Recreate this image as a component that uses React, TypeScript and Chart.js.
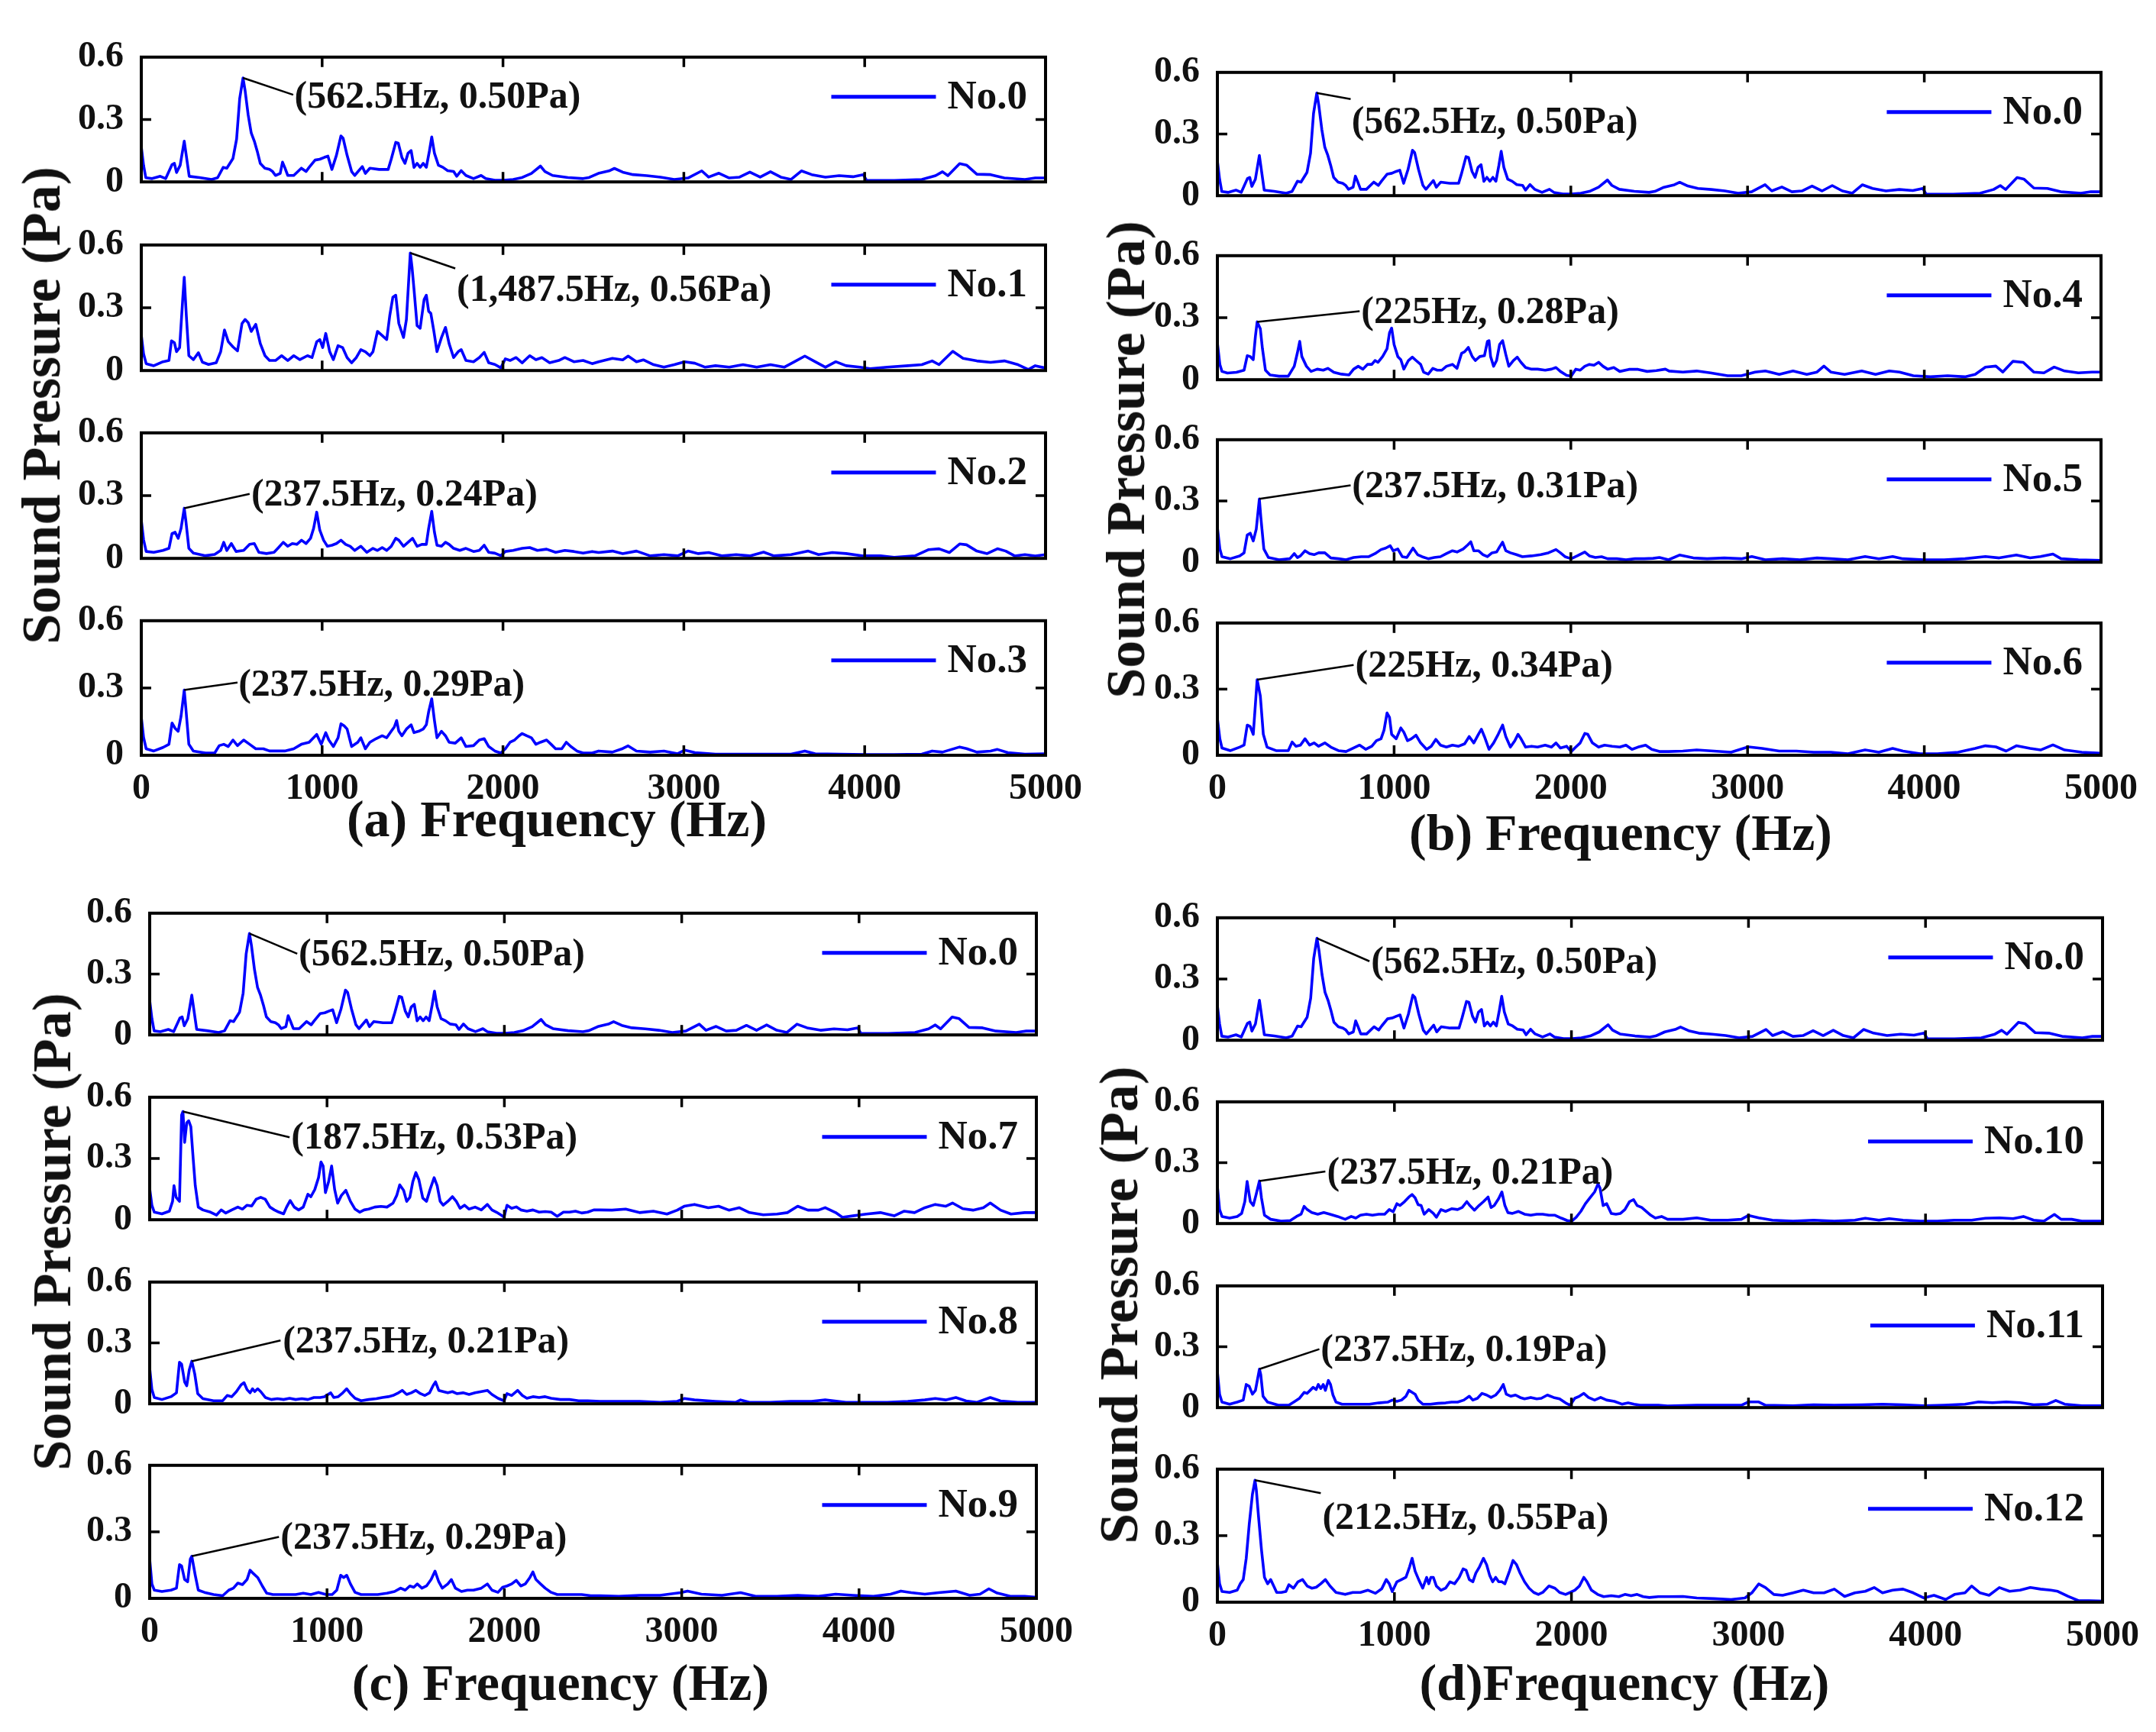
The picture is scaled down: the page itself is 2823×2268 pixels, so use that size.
import React, { useEffect, useRef } from 'react';
import { Chart, registerables } from 'chart.js';

Chart.register(...registerables);

type Pt = [number, number];

// ---------- data: [frequency Hz, sound pressure Pa] ----------
const no0: Pt[] = [[0,0.17],[12.5,0.08],[25,0.02],[60,0.016],[105,0.027],[135,0.016],[170,0.083],[183,0.089],[195,0.045],[215,0.08],[237.5,0.196],[265,0.027],[321,0.021],[389,0.012],[422,0.02],[453,0.07],[473,0.066],[507,0.113],[527,0.206],[544,0.40],[562.5,0.50],[574,0.439],[591,0.322],[608,0.235],[625,0.196],[641,0.148],[658,0.089],[683,0.066],[709,0.06],[726,0.05],[742,0.031],[768,0.041],[781,0.095],[793,0.07],[810,0.031],[843,0.031],[885,0.066],[911,0.05],[928,0.07],[961,0.105],[987,0.109],[1012,0.118],[1032,0.124],[1054,0.06],[1079,0.128],[1104,0.221],[1116,0.21],[1138,0.128],[1163,0.05],[1180,0.031],[1222,0.074],[1239,0.041],[1264,0.066],[1315,0.06],[1365,0.06],[1382,0.109],[1407,0.19],[1421,0.186],[1441,0.118],[1458,0.089],[1475,0.138],[1492,0.151],[1508,0.07],[1525,0.089],[1542,0.07],[1559,0.089],[1576,0.07],[1593,0.148],[1606,0.216],[1621,0.138],[1643,0.08],[1668,0.07],[1694,0.054],[1727,0.05],[1744,0.027],[1769,0.054],[1795,0.031],[1837,0.016],[1879,0.031],[1904,0.016],[1955,0.008],[2005,0.008],[2056,0.012],[2106,0.021],[2157,0.041],[2207,0.076],[2232,0.05],[2274,0.031],[2359,0.021],[2443,0.016],[2476,0.021],[2527,0.041],[2586,0.053],[2616,0.065],[2662,0.047],[2719,0.035],[2795,0.03],[2871,0.023],[2947,0.012],[3023,0.019],[3099,0.053],[3137,0.023],[3194,0.042],[3251,0.019],[3308,0.023],[3365,0.047],[3422,0.023],[3479,0.049],[3536,0.023],[3593,0.012],[3650,0.053],[3707,0.035],[3783,0.023],[3859,0.03],[3935,0.025],[3992,0.035],[4011,0.007],[4163,0.007],[4316,0.012],[4392,0.03],[4430,0.049],[4460,0.03],[4525,0.088],[4563,0.081],[4620,0.037],[4696,0.035],[4772,0.019],[4886,0.012],[4943,0.019],[5000,0.019]];

const no1: Pt[] = [[0,0.171],[12.5,0.08],[27,0.033],[69,0.023],[120,0.042],[153,0.048],[167,0.142],[183,0.133],[195,0.09],[212,0.11],[229,0.34],[237.5,0.446],[249,0.263],[263,0.071],[288,0.052],[316,0.085],[338,0.04],[372,0.029],[414,0.037],[439,0.09],[460,0.194],[481,0.138],[507,0.113],[532,0.094],[557,0.225],[574,0.244],[591,0.229],[608,0.187],[633,0.221],[658,0.129],[684,0.071],[709,0.048],[742,0.048],[776,0.071],[810,0.048],[843,0.071],[877,0.052],[919,0.071],[944,0.062],[970,0.138],[987,0.148],[1003,0.11],[1020,0.177],[1042,0.09],[1062,0.052],[1088,0.119],[1113,0.11],[1138,0.062],[1163,0.037],[1189,0.062],[1214,0.1],[1239,0.09],[1264,0.071],[1281,0.09],[1306,0.187],[1332,0.167],[1357,0.148],[1374,0.263],[1391,0.35],[1407,0.36],[1424,0.225],[1450,0.158],[1466,0.244],[1487.5,0.562],[1497,0.494],[1508,0.388],[1525,0.215],[1542,0.202],[1564,0.34],[1576,0.36],[1589,0.283],[1601,0.273],[1618,0.187],[1635,0.09],[1660,0.158],[1682,0.206],[1702,0.129],[1727,0.062],[1752,0.09],[1769,0.1],[1795,0.048],[1837,0.042],[1869,0.062],[1896,0.087],[1921,0.037],[1955,0.029],[1988,0.013],[2013,0.056],[2039,0.048],[2072,0.062],[2106,0.037],[2148,0.071],[2182,0.052],[2215,0.062],[2258,0.037],[2308,0.048],[2342,0.062],[2392,0.042],[2443,0.048],[2493,0.033],[2529,0.042],[2605,0.058],[2662,0.051],[2692,0.069],[2738,0.042],[2776,0.051],[2833,0.028],[2890,0.016],[2947,0.028],[3004,0.042],[3061,0.035],[3118,0.016],[3175,0.023],[3251,0.016],[3327,0.028],[3403,0.016],[3479,0.028],[3555,0.016],[3612,0.042],[3669,0.069],[3726,0.042],[3783,0.016],[3840,0.042],[3897,0.023],[3973,0.016],[4030,0.009],[4125,0.016],[4240,0.023],[4316,0.028],[4373,0.046],[4411,0.028],[4487,0.092],[4544,0.058],[4620,0.046],[4696,0.039],[4772,0.046],[4848,0.028],[4905,0.005],[4943,0.023],[5000,0.012]];

const no2: Pt[] = [[0,0.183],[12.5,0.09],[27,0.033],[69,0.029],[120,0.038],[153,0.048],[170,0.119],[187,0.125],[204,0.096],[220,0.144],[237.5,0.24],[246,0.183],[263,0.048],[288,0.025],[355,0.013],[406,0.019],[439,0.038],[456,0.077],[473,0.038],[498,0.071],[524,0.033],[566,0.038],[599,0.067],[625,0.071],[650,0.029],[692,0.023],[734,0.029],[759,0.052],[785,0.077],[810,0.058],[835,0.071],[860,0.067],[886,0.087],[911,0.071],[936,0.096],[953,0.144],[970,0.221],[987,0.135],[1008,0.087],[1029,0.058],[1054,0.063],[1079,0.071],[1104,0.087],[1130,0.067],[1155,0.058],[1180,0.038],[1214,0.058],[1247,0.029],[1281,0.048],[1306,0.038],[1332,0.052],[1357,0.038],[1382,0.058],[1407,0.096],[1424,0.087],[1450,0.058],[1475,0.077],[1500,0.096],[1525,0.058],[1551,0.067],[1576,0.067],[1589,0.144],[1606,0.225],[1621,0.125],[1635,0.063],[1660,0.058],[1682,0.077],[1702,0.067],[1727,0.048],[1761,0.038],[1795,0.048],[1837,0.033],[1869,0.038],[1896,0.063],[1921,0.029],[1955,0.025],[1988,0.013],[2013,0.033],[2056,0.038],[2106,0.048],[2148,0.052],[2190,0.038],[2241,0.044],[2291,0.029],[2342,0.038],[2392,0.033],[2443,0.025],[2493,0.033],[2529,0.028],[2605,0.035],[2662,0.023],[2738,0.035],[2814,0.012],[2890,0.018],[2966,0.012],[3023,0.035],[3080,0.023],[3137,0.028],[3213,0.012],[3289,0.018],[3365,0.012],[3441,0.03],[3498,0.012],[3593,0.018],[3688,0.035],[3745,0.018],[3821,0.028],[3897,0.023],[3992,0.012],[4087,0.012],[4163,0.005],[4278,0.012],[4354,0.042],[4411,0.046],[4468,0.028],[4525,0.069],[4563,0.065],[4620,0.035],[4677,0.023],[4734,0.046],[4780,0.035],[4829,0.012],[4886,0.018],[4943,0.012],[5000,0.018]];

const no3: Pt[] = [[0,0.171],[12.5,0.08],[27,0.029],[69,0.019],[120,0.035],[153,0.049],[170,0.144],[187,0.12],[204,0.107],[220,0.175],[237.5,0.291],[246,0.214],[263,0.049],[288,0.019],[355,0.01],[406,0.01],[431,0.043],[456,0.049],[481,0.039],[507,0.068],[532,0.043],[566,0.068],[599,0.049],[633,0.029],[675,0.029],[709,0.019],[742,0.019],[793,0.019],[843,0.029],[885,0.049],[928,0.058],[970,0.093],[995,0.049],[1020,0.101],[1037,0.068],[1062,0.039],[1088,0.078],[1104,0.14],[1121,0.132],[1138,0.117],[1163,0.039],[1197,0.058],[1214,0.078],[1239,0.029],[1264,0.058],[1298,0.074],[1332,0.087],[1357,0.078],[1382,0.107],[1399,0.126],[1412,0.155],[1424,0.107],[1441,0.087],[1466,0.117],[1492,0.136],[1508,0.101],[1534,0.107],[1559,0.117],[1576,0.136],[1589,0.194],[1606,0.252],[1621,0.155],[1635,0.078],[1660,0.107],[1682,0.087],[1702,0.058],[1736,0.054],[1769,0.078],[1795,0.039],[1837,0.043],[1869,0.068],[1896,0.074],[1921,0.039],[1955,0.019],[1988,0.01],[2013,0.029],[2039,0.058],[2064,0.068],[2089,0.087],[2106,0.097],[2131,0.087],[2157,0.078],[2182,0.049],[2207,0.058],[2241,0.068],[2266,0.049],[2291,0.029],[2325,0.029],[2350,0.058],[2375,0.039],[2409,0.019],[2443,0.01],[2493,0.01],[2529,0.019],[2605,0.014],[2662,0.03],[2692,0.042],[2738,0.019],[2814,0.014],[2890,0.019],[2966,0.007],[3004,0.023],[3061,0.012],[3175,0.005],[3327,0.005],[3479,0.005],[3593,0.005],[3669,0.019],[3726,0.007],[3859,0.005],[4011,0.003],[4163,0.003],[4316,0.005],[4373,0.019],[4430,0.014],[4525,0.037],[4563,0.03],[4620,0.014],[4696,0.019],[4734,0.026],[4791,0.012],[4886,0.005],[5000,0.007]];

const no4: Pt[] = [[0,0.179],[14,0.074],[26,0.04],[57,0.032],[108,0.036],[151,0.046],[169,0.116],[186,0.112],[203,0.097],[215,0.208],[225,0.28],[243,0.246],[255,0.15],[272,0.046],[298,0.023],[349,0.017],[401,0.017],[435,0.065],[453,0.131],[466,0.185],[478,0.112],[504,0.065],[530,0.04],[565,0.051],[599,0.046],[625,0.055],[659,0.036],[702,0.027],[745,0.023],[771,0.051],[797,0.065],[823,0.051],[849,0.074],[874,0.074],[892,0.093],[909,0.084],[935,0.112],[960,0.15],[974,0.227],[986,0.25],[1000,0.17],[1021,0.112],[1038,0.097],[1055,0.051],[1081,0.093],[1103,0.109],[1124,0.093],[1150,0.074],[1167,0.036],[1193,0.027],[1219,0.055],[1244,0.046],[1270,0.046],[1296,0.065],[1330,0.074],[1356,0.055],[1382,0.128],[1399,0.135],[1420,0.156],[1442,0.112],[1460,0.093],[1485,0.112],[1511,0.116],[1528,0.185],[1537,0.189],[1546,0.112],[1563,0.065],[1580,0.093],[1597,0.17],[1614,0.189],[1632,0.122],[1649,0.065],[1675,0.093],[1697,0.109],[1718,0.084],[1744,0.059],[1778,0.051],[1812,0.051],[1855,0.046],[1890,0.051],[1916,0.059],[1941,0.04],[1976,0.021],[2002,0.017],[2028,0.051],[2053,0.046],[2079,0.065],[2105,0.074],[2131,0.07],[2157,0.084],[2182,0.065],[2208,0.051],[2243,0.059],[2277,0.04],[2329,0.05],[2380,0.05],[2432,0.04],[2484,0.044],[2535,0.051],[2556,0.042],[2634,0.037],[2712,0.042],[2790,0.033],[2887,0.019],[2965,0.019],[3043,0.037],[3101,0.042],[3179,0.026],[3257,0.042],[3335,0.026],[3393,0.037],[3432,0.066],[3471,0.037],[3549,0.026],[3646,0.042],[3724,0.026],[3802,0.042],[3860,0.037],[3938,0.019],[4035,0.014],[4132,0.019],[4230,0.014],[4288,0.026],[4346,0.061],[4405,0.066],[4444,0.037],[4502,0.089],[4560,0.084],[4619,0.037],[4677,0.033],[4735,0.061],[4794,0.042],[4872,0.033],[4949,0.037],[5000,0.037]];

const no5: Pt[] = [[0,0.171],[14,0.065],[26,0.027],[74,0.017],[126,0.031],[151,0.046],[169,0.133],[186,0.142],[203,0.104],[220,0.162],[237.5,0.31],[246,0.219],[263,0.065],[289,0.023],[349,0.012],[410,0.017],[435,0.042],[453,0.023],[470,0.031],[496,0.056],[522,0.042],[547,0.037],[573,0.046],[608,0.046],[642,0.021],[685,0.017],[728,0.012],[771,0.023],[814,0.027],[857,0.027],[892,0.042],[926,0.062],[952,0.069],[978,0.081],[995,0.056],[1021,0.065],[1046,0.027],[1072,0.023],[1107,0.069],[1133,0.037],[1158,0.027],[1193,0.017],[1227,0.023],[1262,0.027],[1296,0.042],[1330,0.056],[1356,0.05],[1391,0.065],[1417,0.085],[1434,0.1],[1451,0.056],[1477,0.056],[1503,0.037],[1528,0.027],[1554,0.046],[1580,0.05],[1597,0.075],[1614,0.098],[1632,0.056],[1658,0.046],[1692,0.037],[1726,0.027],[1778,0.031],[1830,0.037],[1873,0.046],[1916,0.062],[1941,0.046],[1967,0.027],[2002,0.017],[2036,0.031],[2079,0.05],[2105,0.031],[2139,0.023],[2174,0.027],[2208,0.017],[2260,0.017],[2312,0.012],[2363,0.017],[2415,0.017],[2466,0.019],[2501,0.023],[2553,0.012],[2615,0.035],[2693,0.021],[2771,0.017],[2868,0.021],[2965,0.017],[3024,0.028],[3101,0.012],[3198,0.017],[3296,0.012],[3393,0.021],[3471,0.017],[3568,0.012],[3665,0.028],[3743,0.017],[3821,0.028],[3879,0.017],[3996,0.012],[4113,0.012],[4230,0.017],[4346,0.028],[4424,0.021],[4521,0.035],[4599,0.021],[4658,0.028],[4728,0.04],[4774,0.017],[4872,0.012],[5000,0.009]];

const no6: Pt[] = [[0,0.168],[14,0.075],[26,0.033],[74,0.021],[126,0.037],[151,0.046],[169,0.137],[186,0.13],[203,0.095],[215,0.23],[225,0.343],[243,0.269],[260,0.095],[281,0.037],[332,0.021],[401,0.021],[423,0.06],[444,0.041],[470,0.046],[496,0.075],[522,0.046],[547,0.056],[573,0.041],[608,0.056],[642,0.037],[685,0.021],[728,0.017],[771,0.033],[805,0.046],[840,0.027],[874,0.041],[900,0.066],[926,0.075],[943,0.114],[960,0.192],[974,0.172],[986,0.095],[1012,0.075],[1038,0.124],[1055,0.105],[1076,0.066],[1098,0.075],[1124,0.091],[1150,0.056],[1184,0.027],[1210,0.041],[1236,0.072],[1262,0.046],[1296,0.037],[1330,0.046],[1365,0.041],[1399,0.052],[1425,0.085],[1451,0.056],[1477,0.095],[1494,0.118],[1511,0.085],[1537,0.027],[1563,0.056],[1589,0.095],[1614,0.137],[1632,0.085],[1658,0.037],[1683,0.066],[1701,0.095],[1718,0.075],[1744,0.037],[1778,0.041],[1812,0.037],[1855,0.046],[1890,0.037],[1916,0.056],[1941,0.033],[1976,0.041],[2002,0.017],[2028,0.037],[2053,0.056],[2079,0.099],[2096,0.095],[2122,0.056],[2157,0.037],[2191,0.046],[2234,0.041],[2277,0.037],[2312,0.046],[2346,0.027],[2380,0.037],[2423,0.046],[2458,0.027],[2501,0.017],[2553,0.017],[2634,0.019],[2712,0.024],[2809,0.019],[2907,0.014],[3004,0.038],[3082,0.031],[3179,0.019],[3276,0.019],[3374,0.014],[3471,0.014],[3568,0.007],[3665,0.024],[3743,0.014],[3821,0.031],[3879,0.019],[3977,0.007],[4074,0.007],[4191,0.014],[4288,0.031],[4346,0.043],[4405,0.038],[4463,0.019],[4521,0.043],[4599,0.031],[4658,0.024],[4728,0.047],[4794,0.024],[4891,0.014],[5000,0.009]];

const no7: Pt[] = [[0,0.152],[12.5,0.071],[26,0.037],[69,0.029],[111,0.042],[129,0.09],[137,0.167],[149,0.11],[168,0.09],[180,0.513],[187.5,0.53],[197,0.379],[209,0.475],[220,0.485],[232,0.456],[245,0.302],[257,0.167],[274,0.062],[300,0.048],[343,0.037],[377,0.023],[403,0.048],[429,0.033],[463,0.048],[497,0.062],[523,0.052],[549,0.071],[575,0.067],[600,0.1],[626,0.11],[652,0.1],[678,0.062],[703,0.048],[729,0.037],[755,0.029],[772,0.062],[792,0.094],[815,0.062],[840,0.048],[866,0.062],[892,0.125],[909,0.113],[931,0.148],[952,0.206],[966,0.283],[978,0.263],[991,0.133],[1009,0.187],[1026,0.263],[1043,0.148],[1060,0.081],[1081,0.119],[1106,0.144],[1132,0.09],[1158,0.052],[1184,0.037],[1209,0.048],[1235,0.052],[1269,0.062],[1304,0.065],[1338,0.062],[1372,0.081],[1393,0.119],[1410,0.171],[1432,0.144],[1449,0.09],[1467,0.11],[1484,0.187],[1501,0.231],[1518,0.196],[1540,0.106],[1561,0.09],[1581,0.148],[1604,0.206],[1621,0.167],[1638,0.09],[1655,0.071],[1681,0.09],[1707,0.113],[1729,0.09],[1750,0.056],[1775,0.071],[1801,0.052],[1835,0.062],[1870,0.048],[1904,0.075],[1930,0.048],[1955,0.037],[1981,0.023],[1998,0.013],[2015,0.071],[2041,0.056],[2067,0.063],[2093,0.048],[2127,0.042],[2161,0.048],[2196,0.037],[2230,0.04],[2264,0.037],[2298,0.017],[2333,0.037],[2367,0.037],[2401,0.042],[2436,0.033],[2470,0.037],[2504,0.048],[2539,0.048],[2607,0.047],[2684,0.052],[2762,0.035],[2840,0.042],[2917,0.028],[2975,0.047],[3014,0.066],[3072,0.075],[3150,0.059],[3208,0.066],[3266,0.047],[3324,0.059],[3382,0.035],[3460,0.024],[3538,0.028],[3596,0.035],[3654,0.066],[3712,0.047],[3771,0.047],[3809,0.059],[3868,0.035],[3906,0.012],[3965,0.019],[4042,0.028],[4120,0.035],[4198,0.019],[4255,0.042],[4313,0.035],[4371,0.059],[4430,0.075],[4488,0.066],[4527,0.082],[4585,0.054],[4643,0.047],[4701,0.059],[4740,0.082],[4798,0.047],[4857,0.028],[4934,0.035],[5000,0.035]];

const no8: Pt[] = [[0,0.176],[12.5,0.07],[26,0.031],[69,0.021],[120,0.035],[151,0.054],[168,0.205],[180,0.195],[197,0.108],[209,0.089],[223,0.166],[237.5,0.21],[254,0.147],[271,0.05],[300,0.025],[360,0.015],[412,0.015],[437,0.041],[463,0.035],[489,0.06],[515,0.093],[532,0.104],[549,0.07],[566,0.054],[580,0.074],[592,0.06],[609,0.074],[626,0.06],[652,0.031],[686,0.021],[720,0.025],[755,0.021],[789,0.027],[823,0.021],[858,0.025],[892,0.021],[926,0.031],[961,0.031],[986,0.035],[1021,0.054],[1038,0.031],[1063,0.035],[1089,0.054],[1111,0.074],[1132,0.05],[1158,0.027],[1192,0.015],[1235,0.021],[1278,0.025],[1312,0.031],[1346,0.035],[1372,0.041],[1403,0.054],[1424,0.066],[1449,0.046],[1475,0.054],[1501,0.066],[1527,0.05],[1552,0.041],[1578,0.054],[1598,0.089],[1612,0.108],[1630,0.066],[1655,0.06],[1681,0.054],[1707,0.06],[1732,0.05],[1767,0.054],[1801,0.046],[1835,0.054],[1870,0.06],[1904,0.066],[1930,0.046],[1964,0.027],[1998,0.015],[2015,0.05],[2041,0.041],[2075,0.066],[2101,0.041],[2127,0.027],[2161,0.035],[2196,0.031],[2230,0.035],[2264,0.027],[2316,0.021],[2367,0.021],[2419,0.015],[2470,0.015],[2539,0.012],[2645,0.012],[2762,0.012],[2878,0.007],[2975,0.012],[3014,0.026],[3072,0.019],[3188,0.012],[3304,0.007],[3332,0.019],[3382,0.007],[3499,0.007],[3615,0.012],[3732,0.012],[3809,0.019],[3926,0.007],[4042,0.007],[4159,0.007],[4275,0.012],[4371,0.019],[4430,0.026],[4488,0.019],[4546,0.031],[4604,0.014],[4663,0.007],[4740,0.031],[4798,0.014],[4895,0.007],[5000,0.007]];

const no9: Pt[] = [[0,0.177],[12.5,0.065],[26,0.037],[69,0.031],[120,0.037],[151,0.046],[168,0.152],[180,0.146],[197,0.085],[214,0.075],[229,0.177],[237.5,0.19],[257,0.104],[274,0.037],[309,0.027],[360,0.017],[412,0.012],[446,0.037],[472,0.046],[497,0.069],[523,0.062],[549,0.085],[566,0.127],[583,0.113],[609,0.094],[635,0.056],[660,0.023],[695,0.017],[738,0.017],[780,0.017],[823,0.017],[866,0.023],[909,0.017],[952,0.027],[995,0.017],[1029,0.017],[1055,0.037],[1077,0.104],[1094,0.094],[1111,0.104],[1132,0.065],[1158,0.027],[1192,0.017],[1235,0.017],[1286,0.017],[1338,0.023],[1381,0.031],[1415,0.046],[1441,0.037],[1467,0.056],[1489,0.05],[1509,0.065],[1535,0.046],[1561,0.056],[1587,0.085],[1609,0.123],[1630,0.075],[1650,0.046],[1681,0.065],[1701,0.085],[1724,0.046],[1758,0.031],[1792,0.037],[1826,0.037],[1870,0.046],[1904,0.065],[1930,0.037],[1964,0.027],[1990,0.05],[2015,0.056],[2041,0.065],[2067,0.081],[2093,0.056],[2118,0.065],[2144,0.094],[2161,0.119],[2178,0.085],[2204,0.065],[2230,0.046],[2264,0.027],[2298,0.017],[2333,0.017],[2384,0.017],[2436,0.017],[2487,0.012],[2539,0.012],[2645,0.009],[2762,0.014],[2878,0.014],[2994,0.026],[3033,0.033],[3111,0.019],[3227,0.014],[3332,0.026],[3421,0.009],[3538,0.009],[3654,0.014],[3771,0.009],[3868,0.019],[3965,0.014],[4081,0.009],[4178,0.019],[4236,0.033],[4294,0.026],[4371,0.019],[4449,0.026],[4546,0.033],[4624,0.014],[4682,0.019],[4732,0.043],[4779,0.024],[4857,0.009],[4934,0.009],[5000,0.005]];

const no10: Pt[] = [[0,0.185],[12.5,0.069],[26,0.035],[69,0.027],[112,0.035],[137,0.05],[155,0.108],[168,0.208],[186,0.108],[203,0.089],[220,0.147],[237.5,0.21],[249,0.127],[266,0.041],[301,0.021],[361,0.012],[412,0.015],[447,0.035],[473,0.046],[490,0.085],[507,0.069],[533,0.054],[567,0.046],[601,0.054],[636,0.046],[679,0.035],[722,0.021],[756,0.035],[782,0.027],[808,0.041],[842,0.046],[876,0.041],[911,0.046],[945,0.046],[971,0.069],[993,0.058],[1014,0.098],[1031,0.089],[1057,0.108],[1082,0.131],[1100,0.143],[1117,0.127],[1134,0.093],[1151,0.089],[1168,0.046],[1194,0.069],[1220,0.05],[1237,0.031],[1263,0.069],[1289,0.06],[1323,0.073],[1357,0.069],[1383,0.079],[1409,0.108],[1426,0.089],[1452,0.066],[1478,0.089],[1503,0.108],[1529,0.131],[1546,0.079],[1564,0.089],[1589,0.123],[1607,0.156],[1624,0.089],[1641,0.054],[1667,0.05],[1701,0.06],[1735,0.046],[1770,0.041],[1804,0.046],[1838,0.046],[1873,0.041],[1907,0.041],[1942,0.027],[1976,0.015],[2002,0.012],[2027,0.031],[2053,0.06],[2079,0.098],[2105,0.127],[2131,0.156],[2150,0.195],[2161,0.176],[2179,0.089],[2199,0.098],[2225,0.05],[2251,0.046],[2277,0.05],[2302,0.069],[2328,0.108],[2351,0.118],[2371,0.089],[2397,0.079],[2423,0.06],[2448,0.041],[2474,0.027],[2509,0.035],[2543,0.021],[2630,0.021],[2708,0.028],[2786,0.017],[2883,0.017],[2960,0.021],[2999,0.04],[3058,0.028],[3135,0.017],[3252,0.012],[3368,0.017],[3485,0.012],[3601,0.017],[3660,0.026],[3737,0.017],[3795,0.024],[3873,0.017],[3970,0.012],[4067,0.012],[4164,0.017],[4261,0.017],[4339,0.026],[4417,0.028],[4495,0.024],[4553,0.035],[4611,0.017],[4669,0.012],[4728,0.045],[4766,0.021],[4825,0.021],[4883,0.012],[5000,0.012]];

const no11: Pt[] = [[0,0.178],[12.5,0.066],[26,0.027],[69,0.017],[112,0.027],[146,0.037],[163,0.114],[180,0.105],[198,0.066],[215,0.085],[237.5,0.19],[245,0.163],[258,0.056],[284,0.027],[344,0.012],[404,0.012],[438,0.031],[464,0.046],[490,0.075],[507,0.07],[524,0.085],[541,0.1],[558,0.089],[570,0.114],[584,0.094],[598,0.114],[610,0.085],[627,0.134],[639,0.114],[653,0.062],[670,0.027],[704,0.017],[756,0.017],[808,0.017],[859,0.017],[911,0.023],[962,0.027],[988,0.037],[1014,0.031],[1040,0.037],[1065,0.056],[1082,0.085],[1100,0.075],[1117,0.066],[1134,0.037],[1160,0.017],[1203,0.017],[1246,0.021],[1289,0.023],[1323,0.027],[1357,0.027],[1392,0.037],[1423,0.056],[1443,0.037],[1469,0.046],[1495,0.07],[1521,0.062],[1546,0.05],[1572,0.062],[1595,0.085],[1615,0.114],[1632,0.066],[1658,0.056],[1684,0.062],[1710,0.05],[1735,0.043],[1770,0.05],[1804,0.043],[1830,0.046],[1864,0.062],[1899,0.05],[1933,0.043],[1967,0.023],[1993,0.012],[2019,0.046],[2045,0.056],[2070,0.07],[2096,0.05],[2131,0.037],[2165,0.05],[2199,0.037],[2242,0.031],[2285,0.017],[2320,0.023],[2354,0.017],[2388,0.012],[2440,0.012],[2491,0.012],[2543,0.008],[2708,0.012],[2864,0.012],[2960,0.012],[2999,0.028],[3058,0.028],[3096,0.012],[3252,0.009],[3368,0.014],[3485,0.012],[3640,0.014],[3757,0.017],[3873,0.014],[3990,0.009],[4106,0.012],[4223,0.017],[4300,0.028],[4378,0.024],[4456,0.028],[4534,0.024],[4611,0.014],[4689,0.017],[4736,0.035],[4786,0.017],[4883,0.009],[5000,0.009]];

const no12: Pt[] = [[0,0.179],[12.5,0.083],[26,0.048],[69,0.044],[112,0.054],[129,0.083],[146,0.102],[163,0.198],[180,0.352],[198,0.487],[212.5,0.55],[220,0.506],[232,0.39],[249,0.237],[266,0.112],[284,0.083],[301,0.102],[318,0.073],[335,0.044],[361,0.044],[387,0.048],[404,0.079],[430,0.063],[455,0.092],[481,0.102],[507,0.073],[533,0.063],[558,0.067],[584,0.083],[610,0.102],[636,0.073],[670,0.044],[722,0.035],[765,0.044],[808,0.044],[851,0.054],[893,0.04],[928,0.06],[954,0.102],[971,0.083],[988,0.048],[1014,0.092],[1040,0.102],[1065,0.112],[1086,0.16],[1100,0.198],[1117,0.14],[1137,0.102],[1160,0.063],[1182,0.112],[1194,0.083],[1206,0.112],[1220,0.112],[1237,0.073],[1263,0.054],[1289,0.063],[1314,0.092],[1340,0.083],[1366,0.112],[1388,0.15],[1405,0.144],[1423,0.102],[1443,0.092],[1460,0.131],[1481,0.16],[1503,0.198],[1521,0.169],[1538,0.121],[1555,0.092],[1572,0.112],[1589,0.092],[1607,0.092],[1624,0.083],[1650,0.14],[1670,0.188],[1690,0.169],[1710,0.131],[1735,0.092],[1761,0.063],[1787,0.044],[1813,0.035],[1838,0.044],[1873,0.073],[1907,0.063],[1933,0.044],[1967,0.035],[1993,0.044],[2019,0.054],[2045,0.073],[2070,0.112],[2088,0.092],[2113,0.054],[2148,0.035],[2182,0.025],[2225,0.029],[2268,0.025],[2302,0.035],[2337,0.029],[2371,0.035],[2405,0.025],[2440,0.021],[2491,0.025],[2543,0.025],[2630,0.026],[2708,0.019],[2805,0.016],[2902,0.012],[2980,0.019],[3019,0.042],[3058,0.082],[3096,0.066],[3143,0.035],[3193,0.031],[3252,0.042],[3310,0.054],[3368,0.042],[3427,0.042],[3485,0.059],[3543,0.026],[3601,0.042],[3660,0.049],[3710,0.066],[3757,0.042],[3815,0.054],[3873,0.059],[3931,0.042],[3990,0.019],[4048,0.031],[4114,0.012],[4164,0.035],[4223,0.042],[4261,0.073],[4308,0.042],[4359,0.031],[4417,0.066],[4475,0.049],[4534,0.054],[4592,0.066],[4650,0.059],[4708,0.054],[4747,0.049],[4806,0.026],[4864,0.007],[4922,0.007],[5000,0.005]];

const FREQ_TICKS = [0, 1000, 2000, 3000, 4000, 5000];
const PRESSURE_TICKS = [0, 0.3, 0.6];

// ---------- layout / annotation configuration (page pixels & data-space anchors) ----------
type Ann = { label: string; peak: Pt; end: Pt; text: Pt };
type Row = { name: string; data: Pt[]; top: number; bottom: number; ann: Ann };
type Panel = { left: number; right: number; rows: Row[]; xTitle: string; xTitlePos: Pt; yTitlePos: Pt };

const PANELS: Panel[] = [
  {
    left: 185, right: 1369, xTitle: '(a) Frequency (Hz)', xTitlePos: [729, 1072], yTitlePos: [54, 531],
    rows: [
      { name: 'No.0', data: no0, top: 65, bottom: 252, ann: { label: '(562.5Hz, 0.50Pa)', peak: [562.5, 0.5], end: [840, 0.419], text: [847, 0.404] } },
      { name: 'No.1', data: no1, top: 311, bottom: 499, ann: { label: '(1,487.5Hz, 0.56Pa)', peak: [1487.5, 0.562], end: [1736, 0.488], text: [1744, 0.379] } },
      { name: 'No.2', data: no2, top: 557, bottom: 745, ann: { label: '(237.5Hz, 0.24Pa)', peak: [237.5, 0.24], end: [599, 0.308], text: [608, 0.298] } },
      { name: 'No.3', data: no3, top: 803, bottom: 989, ann: { label: '(237.5Hz, 0.29Pa)', peak: [237.5, 0.291], end: [532, 0.324], text: [537, 0.311] } },
    ],
  },
  {
    left: 1594, right: 2751, xTitle: '(b) Frequency (Hz)', xTitlePos: [2122, 1090], yTitlePos: [1474, 602],
    rows: [
      { name: 'No.0', data: no0, top: 85, bottom: 270, ann: { label: '(562.5Hz, 0.50Pa)', peak: [562.5, 0.5], end: [754, 0.47], text: [759, 0.355] } },
      { name: 'No.4', data: no4, top: 325, bottom: 511, ann: { label: '(225Hz, 0.28Pa)', peak: [225, 0.28], end: [805, 0.331], text: [814, 0.322] } },
      { name: 'No.5', data: no5, top: 566, bottom: 750, ann: { label: '(237.5Hz, 0.31Pa)', peak: [237.5, 0.31], end: [754, 0.377], text: [762, 0.367] } },
      { name: 'No.6', data: no6, top: 806, bottom: 989, ann: { label: '(225Hz, 0.34Pa)', peak: [225, 0.343], end: [771, 0.41], text: [780, 0.4] } },
    ],
  },
  {
    left: 196, right: 1357, xTitle: '(c) Frequency (Hz)', xTitlePos: [734, 2203], yTitlePos: [68, 1613],
    rows: [
      { name: 'No.0', data: no0, top: 1186, bottom: 1369, ann: { label: '(562.5Hz, 0.50Pa)', peak: [562.5, 0.5], end: [832, 0.4], text: [840, 0.391] } },
      { name: 'No.7', data: no7, top: 1427, bottom: 1611, ann: { label: '(187.5Hz, 0.53Pa)', peak: [187.5, 0.53], end: [789, 0.404], text: [798, 0.398] } },
      { name: 'No.8', data: no8, top: 1669, bottom: 1852, ann: { label: '(237.5Hz, 0.21Pa)', peak: [237.5, 0.21], end: [738, 0.312], text: [750, 0.302] } },
      { name: 'No.9', data: no9, top: 1909, bottom: 2093, ann: { label: '(237.5Hz, 0.29Pa)', peak: [237.5, 0.19], end: [729, 0.277], text: [738, 0.267] } },
    ],
  },
  {
    left: 1594, right: 2753, xTitle: '(d)Frequency (Hz)', xTitlePos: [2127, 2203], yTitlePos: [1465, 1709],
    rows: [
      { name: 'No.0', data: no0, top: 1192, bottom: 1376, ann: { label: '(562.5Hz, 0.50Pa)', peak: [562.5, 0.5], end: [859, 0.387], text: [868, 0.377] } },
      { name: 'No.10', data: no10, top: 1433, bottom: 1616, ann: { label: '(237.5Hz, 0.21Pa)', peak: [237.5, 0.21], end: [610, 0.257], text: [619, 0.247] } },
      { name: 'No.11', data: no11, top: 1674, bottom: 1857, ann: { label: '(237.5Hz, 0.19Pa)', peak: [237.5, 0.19], end: [576, 0.288], text: [584, 0.279] } },
      { name: 'No.12', data: no12, top: 1914, bottom: 2098, ann: { label: '(212.5Hz, 0.55Pa)', peak: [212.5, 0.55], end: [584, 0.492], text: [593, 0.375] } },
    ],
  },
];

const FONT = "'Liberation Serif', 'Times New Roman', serif";
const LINE_COLOR = '#0000ff';
const Y_AXIS_W = 150;
const PAD_T = 34;
const PAD_R = 64;
const PAD_B = 30;
const X_AXIS_H = 74;

const framePlugin = {
  id: 'frameAndNotes',
  afterDatasetsDraw(chart: any, _args: any, opts: any) {
    const { ctx, chartArea, scales } = chart;
    const { left, top, right, bottom } = chartArea;
    const xs = scales.x;
    const ys = scales.y;
    const seg = (x1: number, y1: number, x2: number, y2: number) => {
      ctx.beginPath();
      ctx.moveTo(x1, y1);
      ctx.lineTo(x2, y2);
      ctx.stroke();
    };
    ctx.save();
    ctx.strokeStyle = '#000';
    ctx.lineCap = 'butt';
    // inward tick marks
    ctx.lineWidth = 3.5;
    FREQ_TICKS.slice(1, -1).forEach((v) => {
      const px = xs.getPixelForValue(v);
      seg(px, top, px, top + 13);
      seg(px, bottom, px, bottom - 13);
    });
    PRESSURE_TICKS.slice(1, -1).forEach((v) => {
      const py = ys.getPixelForValue(v);
      seg(left, py, left + 13, py);
      seg(right, py, right - 13, py);
    });
    // frame
    ctx.lineWidth = 4;
    ctx.strokeRect(left, top, right - left, bottom - top);

    // peak annotation
    const ann: Ann = opts.ann;
    ctx.lineWidth = 2.5;
    seg(xs.getPixelForValue(ann.peak[0]), ys.getPixelForValue(ann.peak[1]), xs.getPixelForValue(ann.end[0]), ys.getPixelForValue(ann.end[1]));
    ctx.fillStyle = '#111';
    ctx.font = `bold 50px ${FONT}`;
    ctx.textAlign = 'left';
    ctx.textBaseline = 'middle';
    ctx.fillText(ann.label, xs.getPixelForValue(ann.text[0]), ys.getPixelForValue(ann.text[1]));

    // legend (line sample + series name), top-right inside the axes
    const ly = top + 52;
    ctx.font = `bold 53px ${FONT}`;
    ctx.textAlign = 'right';
    const tx = right - 24;
    ctx.fillText(opts.name, tx, ly + 2);
    const tw = ctx.measureText(opts.name).width;
    ctx.strokeStyle = LINE_COLOR;
    ctx.lineWidth = 5;
    seg(tx - tw - 15 - 137, ly, tx - tw - 15, ly);
    ctx.restore();
  },
};

function SubChart({ panel, row, isBottom }: { panel: Panel; row: Row; isBottom: boolean }) {
  const ref = useRef<HTMLCanvasElement>(null);
  const plotW = panel.right - panel.left;
  const plotH = row.bottom - row.top;
  const w = Y_AXIS_W + plotW + PAD_R;
  const h = PAD_T + plotH + (isBottom ? X_AXIS_H : 0) + PAD_B;
  const cssLeft = panel.left - Y_AXIS_W;
  const cssTop = row.top - PAD_T;

  useEffect(() => {
    const chart = new Chart(ref.current as HTMLCanvasElement, {
      type: 'line',
      data: {
        datasets: [
          {
            label: row.name,
            data: row.data.map(([x, y]) => ({ x, y })),
            borderColor: LINE_COLOR,
            borderWidth: 3.6,
            borderJoinStyle: 'round',
            borderCapStyle: 'round',
            pointRadius: 0,
            tension: 0,
            fill: false,
          },
        ],
      },
      options: {
        animation: false,
        responsive: false,
        devicePixelRatio: 1,
        events: [],
        layout: { padding: { top: PAD_T, right: PAD_R, bottom: PAD_B, left: 0 } },
        plugins: {
          legend: { display: false },
          tooltip: { enabled: false },
          frameAndNotes: { ann: row.ann, name: row.name },
        } as any,
        scales: {
          x: {
            type: 'linear',
            min: 0,
            max: 5000,
            grid: { display: false },
            border: { display: false },
            afterBuildTicks: (s: any) => {
              s.ticks = FREQ_TICKS.map((value) => ({ value }));
            },
            afterFit: (s: any) => {
              s.height = isBottom ? X_AXIS_H : 0;
            },
            ticks: {
              display: isBottom,
              maxRotation: 0,
              autoSkip: false,
              padding: 8,
              color: '#111',
              font: { family: FONT, size: 48, weight: 'bold' },
              callback: (v: any) => String(v),
            },
          },
          y: {
            type: 'linear',
            min: 0,
            max: 0.6,
            grid: { display: false },
            border: { display: false },
            afterBuildTicks: (s: any) => {
              s.ticks = PRESSURE_TICKS.map((value) => ({ value }));
            },
            afterFit: (s: any) => {
              s.width = Y_AXIS_W;
            },
            ticks: {
              padding: 15,
              autoSkip: false,
              color: '#111',
              font: { family: FONT, size: 48, weight: 'bold' },
              callback: (v: any) => (Number(v) === 0 ? '0' : Number(v).toFixed(1)),
            },
          },
        },
      } as any,
      plugins: [framePlugin],
    });
    return () => chart.destroy();
  }, []);

  return (
    <canvas
      ref={ref}
      width={w}
      height={h}
      style={{ position: 'absolute', left: cssLeft, top: cssTop, width: w, height: h }}
    />
  );
}

const titleStyle: React.CSSProperties = {
  position: 'absolute',
  fontFamily: FONT,
  fontWeight: 'bold',
  color: '#111',
  whiteSpace: 'nowrap',
  lineHeight: 1,
};

export default function App() {
  useEffect(() => {
    document.body.style.margin = '0';
    document.body.style.background = '#fff';
  }, []);
  return (
    <div style={{ position: 'absolute', left: 0, top: 0, width: 2823, height: 2268, background: '#fff', overflow: 'hidden' }}>
      {PANELS.map((panel, pi) => (
        <React.Fragment key={pi}>
          {panel.rows.map((row, ri) => (
            <SubChart key={ri} panel={panel} row={row} isBottom={ri === panel.rows.length - 1} />
          ))}
          <div
            style={{
              ...titleStyle,
              fontSize: 68,
              left: panel.xTitlePos[0],
              top: panel.xTitlePos[1],
              transform: 'translate(-50%, -50%)',
            }}
          >
            {panel.xTitle}
          </div>
          <div
            style={{
              ...titleStyle,
              fontSize: 72,
              left: panel.yTitlePos[0],
              top: panel.yTitlePos[1],
              transform: 'translate(-50%, -50%) rotate(-90deg)',
            }}
          >
            Sound Pressure (Pa)
          </div>
        </React.Fragment>
      ))}
    </div>
  );
}
